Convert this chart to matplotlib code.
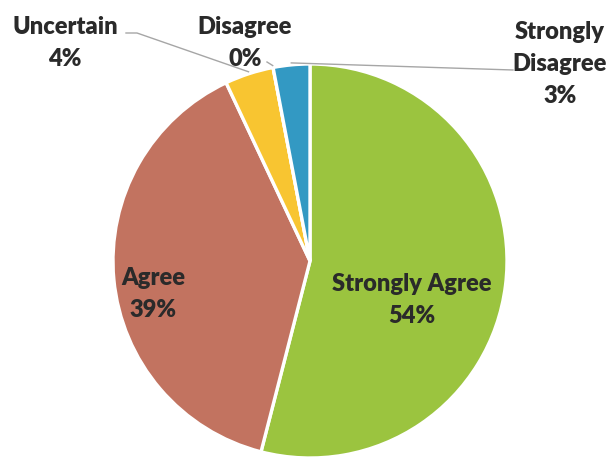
import numpy as np
import matplotlib.pyplot as plt

# Data
labels = ["Strongly Agree", "Agree", "Uncertain", "Disagree", "Strongly\nDisagree"]
values = [54, 39, 4, 0, 3]
colors = ["#9BC43F", "#C27360", "#F8C531", "#DDDDDD", "#3399C3"]

# pixel layout helpers (pie centre and radius in image pixels)
W, H = 609, 457
CX, CY, R = 310, 261, 197


def px(x, y):
    return (x - CX) / R, (CY - y) / R


fig = plt.figure(figsize=(W / 100, H / 100), dpi=100)
ax = fig.add_axes([0, 0, 1, 1])

wedges, _ = ax.pie(values, colors=colors, startangle=90, counterclock=False,
                   wedgeprops=dict(edgecolor="white", linewidth=2.4))
ax.set_xlim(-CX / R, (W - CX) / R)
ax.set_ylim(-(H - CY) / R, CY / R)
ax.set_aspect("equal")
ax.axis("off")

font = dict(family=["Lato", "DejaVu Sans"], fontweight="heavy", fontsize=17,
            color="#2A2A2A", ha="center", va="center", linespacing=1.55)

# label centres in pixels
text_pos = [(412, 300), (153, 294), (65, 43), (245, 43), (560, 64)]
for lab, v, (x, y) in zip(labels, values, text_pos):
    ax.text(*px(x, y), f"{lab}\n{v}%", **font)

# leader lines for the small slices
line_start = {2: [(126, 33), (137, 33)], 3: [(267, 62)], 4: [(513, 70)]}
for i, pts in line_start.items():
    w = wedges[i]
    ang = np.deg2rad((w.theta1 + w.theta2) / 2)
    ex, ey = 1.01 * np.cos(ang), 1.01 * np.sin(ang)
    xs = [px(*p)[0] for p in pts] + [ex]
    ys = [px(*p)[1] for p in pts] + [ey]
    ax.plot(xs, ys, color="#A6A6A6", lw=1)

fig.savefig("out.png", dpi=100)
